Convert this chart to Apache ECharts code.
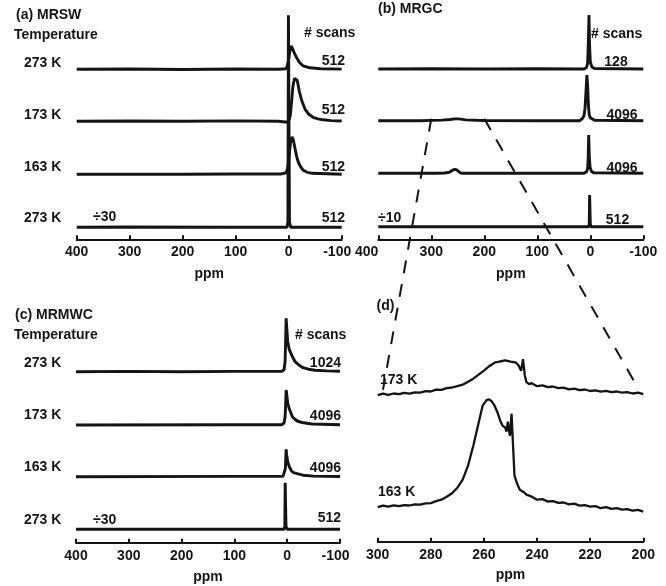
<!DOCTYPE html>
<html>
<head>
<meta charset="utf-8">
<script src="https://cdn.jsdelivr.net/npm/echarts@6/dist/echarts.min.js"></script>
<style>
html,body{margin:0;padding:0;background:#fff;}
#chart{width:666px;height:586px;}
</style>
</head>
<body>
<div id="chart"></div>
<script>
// ---------- DATA ----------
const wideTicks = [400, 300, 200, 100, 0, -100];
const zoomTicks = [300, 280, 260, 240, 220, 200];
const panelTitles = ['(a) MRSW', '(b) MRGC', '(c) MRMWC', '(d)'];
const tempLabels = ['273 K', '173 K', '163 K', '273 K'];
const tempLabelsD = ['173 K', '163 K'];
const scansA = ['512', '512', '512', '512'];
const scansB = ['128', '4096', '4096', '512'];
const scansC = ['1024', '4096', '4096', '512'];
const divisors = ['÷30', '÷10', '÷30'];

// spectra: [ppm, intensity]
const a273K = [[400,0],[300,0.3],[200,-0.2],[100,0.3],[20,0],[5,0.5],[3,3],[0,10],[-2,18],[-4.5,23.3],[-7,21],[-10,17],[-15,11.7],[-20,7],[-27,3.5],[-40,1.5],[-60,0.6],[-100,0.2]];
const a173K = [[400,0],[300,0.3],[200,0],[100,0.4],[20,0],[2,-1],[-1,2],[-3,6],[-5.5,20],[-8,35],[-11,43],[-13.5,44.4],[-16,41],[-20,30],[-25,20],[-31,12],[-38,7],[-46,4],[-55,2.5],[-65,1.5],[-80,0.7],[-100,0.3]];
const a163K = [[400,0],[300,0.2],[200,0],[100,0.3],[15,0.3],[5,1.5],[2,6],[0,14],[-2,25],[-4,34],[-6.3,37.3],[-8.5,35],[-12,25.7],[-15,18],[-18,12.3],[-22,8],[-27.5,4],[-35,2],[-45,1],[-100,0]];
const a273Kdiv = [[400,0],[300,0.3],[100,0],[3,0],[1.5,6],[0.5,212],[-0.3,212],[-1.5,5],[-4,0],[-100,0]];

const b128 = [[400,0],[300,0.3],[200,0],[100,0.3],[12,0],[7,1.5],[5,6],[3.5,30],[2.5,54],[1.5,25],[0,7],[-3,2],[-8,0.5],[-100,0]];
const b4096a = [[400,0],[320,0],[300,0.3],[280,0.6],[265,1.2],[255,1.8],[248,1.8],[245,1.2],[235,0.8],[215,0.4],[200,0.2],[100,0],[20,0],[15,2],[12,5],[10,12],[8,30],[6.5,45.7],[5,35],[3.5,15],[2,6],[0,3],[-3,1.5],[-8,0.5],[-100,0]];
const b4096b = [[400,0],[290,0],[275,0.3],[266,1],[260,3],[256,4],[252,3.5],[249,1.5],[245,0.3],[240,0],[100,0],[12,0],[7,1.5],[5,5],[4,15],[3,38.3],[2,18],[0.5,6],[-2,2],[-6,0.5],[-100,0]];
const b512div = [[400,0],[3,0],[2,3],[1.3,31.7],[0.6,31.7],[0,3],[-1,0],[-100,0]];

const c1024 = [[400,0],[300,0.3],[200,0],[100,0.3],[10,0.3],[6,2],[4,10],[3,30],[2,53.4],[1,45],[-1,30],[-4,22],[-9,16],[-15,10],[-22,6.7],[-30,4],[-40,2.5],[-53,1.5],[-75,0.8],[-100,0.5]];
const c4096a = [[400,0],[100,0.2],[10,0.3],[6,2],[4,8],[3,20],[2,35],[1,31],[-1,22],[-4,16],[-6.3,13],[-10,8],[-14,6],[-19,4],[-28,2.5],[-47,1],[-100,0.3]];
const c4096b = [[400,0],[100,0.3],[8,0.3],[5,2],[3.5,8],[2,27.4],[1,22],[-1,15],[-4,10],[-8,6],[-12,4],[-19,3],[-30,1.5],[-50,0.6],[-100,0.2]];
const c512div = [[400,0],[6,0],[4.5,3],[3.8,46.6],[3.1,46.6],[2.3,3],[0,0],[-100,0]];

const d173K = [[300,0.5],[298,2.0],[296,0.8],[294,2.2],[292,1.5],[290,2.8],[288,2.0],[286,3.4],[284,3.0],[282,4.5],[280,4.2],[278,6.0],[276,5.8],[274,7.5],[272,8.2],[270,9.6],[268,11.0],[266,14.0],[264,17.0],[262,21.0],[260,25.0],[258,29.5],[256,33.0],[254,34.2],[252,35.3],[250,34.0],[248,33.2],[247,30.5],[246,25.0],[245.3,36.5],[244.6,20.0],[244,13.5],[243,11.5],[242,12.5],[240,9.5],[238,10.4],[236,8.6],[234,9.2],[232,7.5],[230,8.0],[228,6.3],[226,7.0],[224,5.6],[222,6.2],[220,4.7],[218,5.3],[216,4.0],[214,4.8],[212,3.6],[210,4.2],[208,3.0],[206,3.6],[204,2.2],[202,3.0],[200,1.5]];
const d163K = [[300,0.5],[298,2.0],[296,1.0],[294,2.4],[292,1.5],[290,2.6],[288,2.2],[286,3.4],[284,3.0],[282,4.4],[280,4.6],[278,6.5],[276,8.0],[274,11.0],[272,14.5],[270,20.0],[268,28.0],[266,42.0],[264,62.0],[262,85.0],[260.5,102.0],[259,107.5],[258,108.4],[257,106.0],[256,102.0],[255,96.0],[254,88.0],[253,82.0],[252,80.0],[251.5,76.0],[251,86.0],[250.6,78.0],[250.2,72.0],[249.6,94.0],[249,60.0],[248.5,32.0],[247.5,24.0],[246.5,18.0],[245,15.5],[244,13.0],[242,11.0],[240,8.0],[238,8.6],[236,6.2],[234,6.6],[232,4.8],[230,5.2],[228,3.4],[226,4.0],[224,2.0],[222,2.6],[220,1.0],[218,1.6],[216,-0.5],[214,0.6],[212,-1.2],[210,-0.4],[208,-2.0],[206,-1.4],[204,-3.0],[202,-2.2],[200,-4.0]];

// ---------- LAYOUT ----------
const FONT = '"Liberation Sans", Arial, sans-serif';
const INK = '#141414';
const offsA = [170, 118, 65, 12];
const offsB = [170.3, 118.6, 66, 12.6];
const offsC = [171, 117.7, 66, 13.4];
const offsD = [146, 34];

function shift(arr, off) { return arr.map(p => [p[0], p[1] + off]); }

const grids = [
  {left: 76.7, top: 9.3, width: 265, height: 230},
  {left: 378.3, top: 9.3, width: 265, height: 230},
  {left: 76, top: 312.7, width: 264, height: 230},
  {left: 377.7, top: 311.7, width: 265.6, height: 230}
];

function xAx(i, min, max, interval, nameGap, mode) {
  const labelStyle = {fontFamily: FONT, fontWeight: 'bold', fontSize: 14, color: INK};
  const axisLabel = Object.assign({show: true, margin: 6}, labelStyle);
  if (mode === 'right') axisLabel.alignMaxLabel = 'right';
  if (mode === 'pad') {
    axisLabel.formatter = v => (v === min ? '{r|' + v + '}' : String(v));
    axisLabel.rich = {r: Object.assign({padding: [0, 9, 0, 0]}, labelStyle)};
  }
  return {
    gridIndex: i, type: 'value', inverse: true, min: min, max: max, interval: interval,
    name: 'ppm', nameLocation: 'middle', nameGap: nameGap,
    nameTextStyle: labelStyle,
    axisLine: {show: true, onZero: false, lineStyle: {color: INK, width: 2}},
    axisTick: {show: true, inside: true, length: 4, lineStyle: {color: INK, width: 2}},
    axisLabel: axisLabel,
    splitLine: {show: false}
  };
}
function yAx(i) {
  return {gridIndex: i, type: 'value', min: 0, max: 230, show: false};
}

const series = [];
function addLine(i, data, off, w) {
  series.push({type: 'line', xAxisIndex: i, yAxisIndex: i, data: shift(data, off),
    showSymbol: false, symbol: 'none', smooth: false, animation: false, silent: true,
    lineStyle: {color: INK, width: w}});
}
[a273K, a173K, a163K, a273Kdiv].forEach((d, k) => addLine(0, d, offsA[k], 2.9));
[b128, b4096a, b4096b, b512div].forEach((d, k) => addLine(1, d, offsB[k], 2.9));
[c1024, c4096a, c4096b, c512div].forEach((d, k) => addLine(2, d, offsC[k], 2.9));
[d173K, d163K].forEach((d, k) => addLine(3, d, offsD[k], 2.3));

const option = {
  backgroundColor: '#ffffff',
  animation: false,
  grid: grids,
  xAxis: [
    xAx(0, -100, 400, 100, 28, 'pad'), xAx(1, -100, 400, 100, 28, 'right'),
    xAx(2, -100, 400, 100, 27, 'pad'), xAx(3, 200, 300, 20, 26)
  ],
  yAxis: [yAx(0), yAx(1), yAx(2), yAx(3)],
  series: series
};

const chart = echarts.init(document.getElementById('chart'), null, {renderer: 'canvas'});
chart.setOption(option);

// ---------- TEXT + DASHED ZOOM LINES ----------
function txt(t, x, y, align) {
  return {type: 'text', silent: true, z: 10,
    style: {text: t, x: x, y: y, align: align || 'left', verticalAlign: 'middle',
      font: 'bold 14px ' + FONT, fill: INK}};
}
const g = [];
g.push(txt(panelTitles[0], 16, 15));
g.push(txt(panelTitles[1], 378, 9.5));
g.push(txt(panelTitles[2], 15, 315));
g.push(txt(panelTitles[3], 376.5, 306));
g.push(txt('Temperature', 14, 34.7));
g.push(txt('Temperature', 14, 335));
g.push(txt('# scans', 304, 33.3));
g.push(txt('# scans', 591, 34.3));
g.push(txt('# scans', 295, 335));
const tyA = [63.3, 115, 166.7, 218.5];
const tyC = [363.3, 415, 466.7, 520];
tempLabels.forEach((t, k) => { g.push(txt(t, 24, tyA[k])); g.push(txt(t, 24, tyC[k])); });
const syA = [61, 110, 166.7, 218.3];
scansA.forEach((t, k) => g.push(txt(t, 345, syA[k], 'right')));
const sxB = [616, 622, 622, 617.5];
const syB = [61.7, 115, 168.3, 220];
scansB.forEach((t, k) => g.push(txt(t, sxB[k], syB[k], 'center')));
const syC = [363, 416, 468.3, 518.3];
scansC.forEach((t, k) => g.push(txt(t, 341, syC[k], 'right')));
g.push(txt(divisors[0], 93, 217));
g.push(txt(divisors[1], 378, 218.3));
g.push(txt(divisors[2], 93, 520));
g.push(txt(tempLabelsD[0], 380, 380));
g.push(txt(tempLabelsD[1], 378, 491.7));

function dash(p1, p2) {
  return {type: 'line', silent: true, z: 5,
    shape: {x1: p1[0], y1: p1[1], x2: p2[0], y2: p2[1]},
    style: {stroke: INK, lineWidth: 2, lineDash: [13, 11]}};
}
const s1 = chart.convertToPixel({xAxisIndex: 1, yAxisIndex: 1}, [300, offsB[1] + 2]);
const e1 = chart.convertToPixel({xAxisIndex: 3, yAxisIndex: 3}, [298, offsD[0] + 6]);
const s2 = chart.convertToPixel({xAxisIndex: 1, yAxisIndex: 1}, [200, offsB[1] + 2]);
const e2 = chart.convertToPixel({xAxisIndex: 3, yAxisIndex: 3}, [202.5, offsD[0] + 10]);
g.push(dash(s1, e1));
g.push(dash(s2, e2));

chart.setOption({graphic: g});
</script>
</body>
</html>
